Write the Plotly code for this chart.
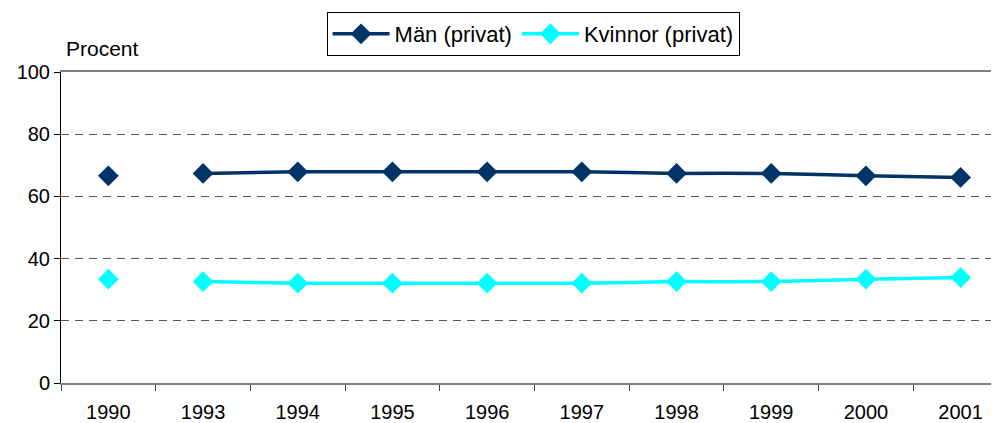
import plotly.graph_objects as go

years = ["1990", "1993", "1994", "1995", "1996", "1997", "1998", "1999", "2000", "2001"]
man_privat = [66.6, 67.4, 67.9, 67.9, 67.9, 67.9, 67.4, 67.4, 66.6, 66.1]
kvinnor_privat = [33.4, 32.6, 32.1, 32.1, 32.1, 32.1, 32.6, 32.6, 33.4, 33.9]

series = [
    ("Män (privat)", man_privat, "#003366"),
    ("Kvinnor (privat)", kvinnor_privat, "#00FFFF"),
]

FONT = "Liberation Sans, Arial, sans-serif"
fig = go.Figure()
for name, vals, col in series:
    # 1990 stands alone (no connecting line to 1993)
    fig.add_trace(go.Scatter(
        x=years[:1], y=vals[:1], mode="markers", name=name, showlegend=False,
        marker=dict(symbol="diamond", size=16, color=col), hoverinfo="x+y",
    ))
    fig.add_trace(go.Scatter(
        x=years[1:], y=vals[1:], mode="lines+markers", name=name,
        line=dict(color=col, width=3.5, shape="spline", smoothing=0.6),
        marker=dict(symbol="diamond", size=16, color=col),
    ))

fig.update_layout(
    width=999, height=423,
    margin=dict(l=53, r=0, t=64, b=48, autoexpand=False),
    paper_bgcolor="white", plot_bgcolor="white",
    font=dict(family=FONT, size=20, color="black"),
    legend=dict(
        orientation="h", x=0.499, xanchor="center", y=1.193, yanchor="top",
        bordercolor="black", borderwidth=1, bgcolor="white",
        font=dict(size=22), tracegroupgap=0, itemwidth=57,
    ),
    annotations=[dict(
        text="Procent", xref="paper", yref="paper", x=0.003, y=1.077,
        xanchor="left", yanchor="middle", showarrow=False, font=dict(size=21),
    )],
)
fig.update_xaxes(
    type="category", range=[-0.5, 9.49], automargin=False,
    showline=True, linecolor="#7f7f7f", linewidth=2, mirror=True,
    ticks="outside", tickson="boundaries", ticklen=6, tickcolor="#404040",
    ticklabelstandoff=10,
    showgrid=False, zeroline=False, tickfont=dict(size=20),
)
fig.update_yaxes(
    range=[0, 100], dtick=20, tickmode="linear", automargin=False,
    showline=True, linecolor="black", linewidth=1,
    ticks="outside", ticklen=6, tickcolor="black",
    showgrid=True, gridcolor="#555555", gridwidth=1, griddash="8px,6px",
    zeroline=False, tickfont=dict(size=20),
)

fig.write_html("out.html")
